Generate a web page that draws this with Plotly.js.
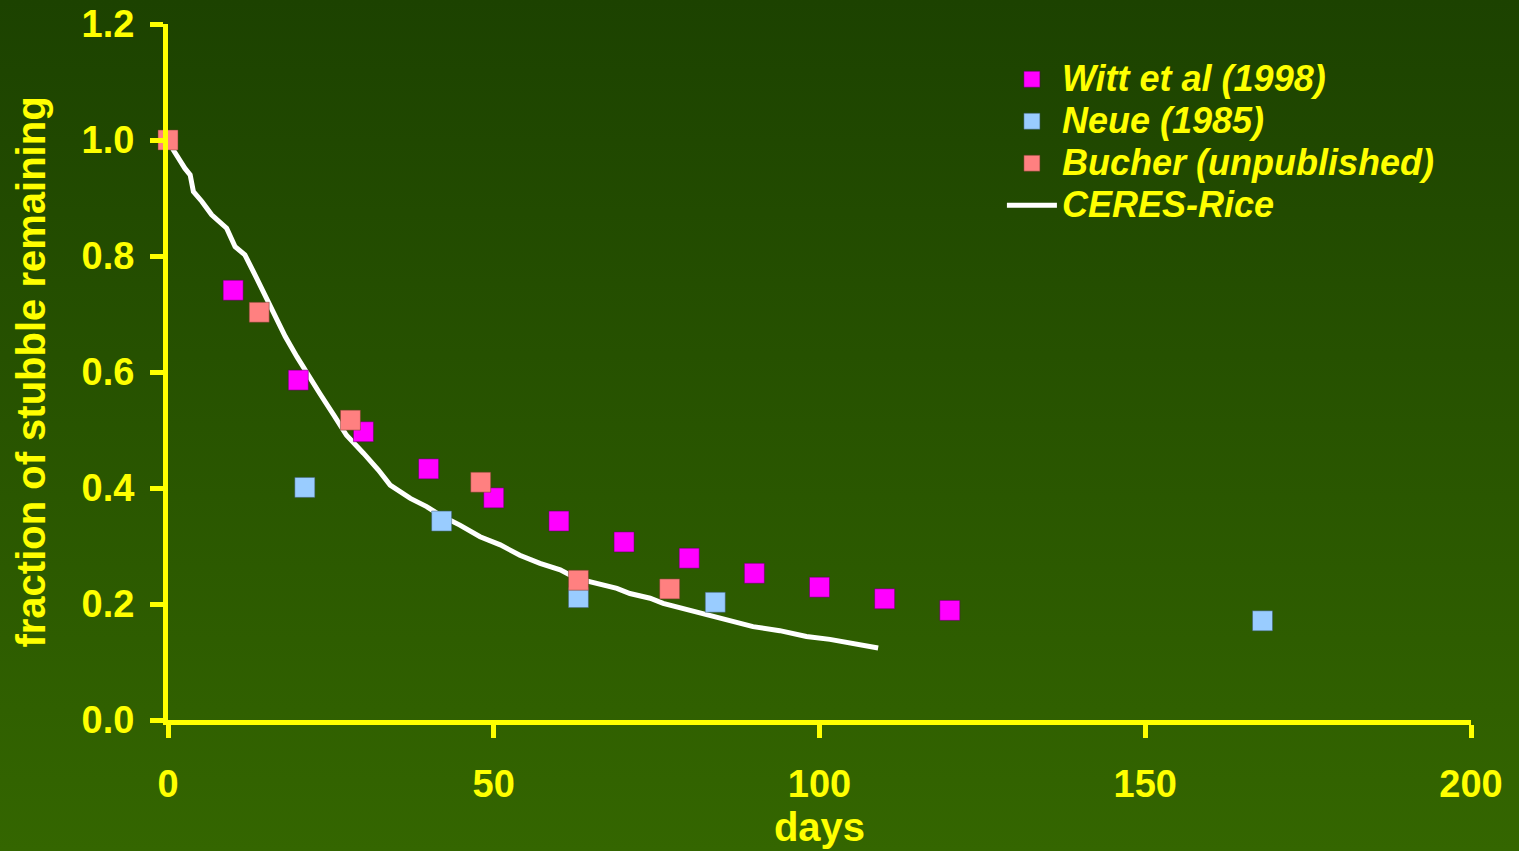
<!DOCTYPE html>
<html><head><meta charset="utf-8">
<script src="https://cdn.plot.ly/plotly-3.0.1.min.js"></script>
<style>
html,body{margin:0;padding:0;width:1519px;height:851px;overflow:hidden;
background:linear-gradient(to bottom,#1c4200 0%,#285400 50%,#346600 100%);}
#chart{width:1519px;height:851px;}
</style>
</head><body><div id="chart"></div>
<script>
// Witt et al (1998)
const wittDays = [10,20,30,40,50,60,70,80,90,100,110,120];
const wittFrac = [0.741,0.586,0.497,0.433,0.383,0.343,0.307,0.279,0.253,0.229,0.209,0.189];
// Neue (1985)
const neueDays = [21,42,63,84,168];
const neueFrac = [0.401,0.343,0.211,0.203,0.171];
// Bucher (unpublished)
const bucherDays = [0,14,28,48,63,77];
const bucherFrac = [1.0,0.703,0.517,0.41,0.241,0.226];
// CERES-Rice simulation
const ceresDays = [0,0.8,2.6,3.4,3.9,5.2,6.7,9.0,10.3,11.8,13.6,15.7,18.0,19.8,21.8,23.3,25.6,27.4,30.0,32.3,34.1,37.2,39.7,41.8,44.8,47.9,51.0,54.0,57.1,60.2,62.7,65.8,68.9,70.9,74.0,76.0,79.6,82.2,85.8,89.8,93.9,98.0,101.6,105.2,109.0];
const ceresFrac = [1.0,0.983,0.951,0.940,0.911,0.894,0.871,0.848,0.816,0.802,0.762,0.713,0.661,0.626,0.592,0.563,0.523,0.491,0.460,0.431,0.405,0.382,0.368,0.353,0.336,0.316,0.302,0.284,0.270,0.259,0.244,0.236,0.227,0.218,0.210,0.201,0.190,0.183,0.172,0.161,0.154,0.144,0.139,0.131,0.124];

const seriesNames = ['Witt et al (1998)','Neue (1985)','Bucher (unpublished)','CERES-Rice'];
const xTitle = 'days';
const yTitle = 'fraction of stubble remaining';

const YEL = '#FFFF00';
const FAM = 'Liberation Sans, Arial, sans-serif';
const lg = s => '<span style="font-size:36px">' + s + '</span>';

const traces = [
  {x: ceresDays, y: ceresFrac, type:'scatter', mode:'lines', name: lg(seriesNames[3]), legendrank: 4,
   line:{color:'#FFFFFF', width:5}, cliponaxis:false},
  {x: wittDays, y: wittFrac, type:'scatter', mode:'markers', name: lg(seriesNames[0]), legendrank: 1,
   marker:{symbol:'square', size:20, color:'#FF00FF', line:{color:'rgba(90,0,90,0.5)', width:1}}, cliponaxis:false},
  {x: neueDays, y: neueFrac, type:'scatter', mode:'markers', name: lg(seriesNames[1]), legendrank: 2,
   marker:{symbol:'square', size:20, color:'#99CCFF', line:{color:'rgba(60,90,110,0.5)', width:1}}, cliponaxis:false},
  {x: bucherDays, y: bucherFrac, type:'scatter', mode:'markers', name: lg(seriesNames[2]), legendrank: 3,
   marker:{symbol:'square', size:20, color:'#FF8080', line:{color:'rgba(110,60,40,0.5)', width:1}}, cliponaxis:false}
];

const axisCommon = {
  showline:true, linecolor:YEL, linewidth:5, ticks:'outside', ticklen:13, tickwidth:5, tickcolor:YEL,
  showgrid:false, zeroline:false, fixedrange:true,
  tickfont:{family:FAM, size:38, color:YEL, weight:'bold'}
};

const layout = {
  width:1519, height:851,
  margin:{l:168, r:48, t:24, b:131},
  paper_bgcolor:'rgba(0,0,0,0)', plot_bgcolor:'rgba(0,0,0,0)',
  showlegend:true,
  legend:{x:0.640, y:0.958, xanchor:'left', yanchor:'top', bgcolor:'rgba(0,0,0,0)',
    font:{family:FAM, size:30, color:YEL, weight:'bold', style:'italic'}, itemwidth:50},
  xaxis: Object.assign({}, axisCommon, {range:[0,200], dtick:50, tick0:0, ticklabelstandoff:13,
    title:{text:xTitle, font:{family:FAM, size:40, color:YEL, weight:'bold'}, standoff:2}}),
  yaxis: Object.assign({}, axisCommon, {range:[0,1.2], dtick:0.2, tick0:0, tickformat:'.1f', ticklabelstandoff:8,
    title:{text:yTitle, font:{family:FAM, size:40, color:YEL, weight:'bold'}, standoff:25}})
};

Plotly.newPlot('chart', traces, layout, {displayModeBar:false, staticPlot:true});
</script>
</body></html>
